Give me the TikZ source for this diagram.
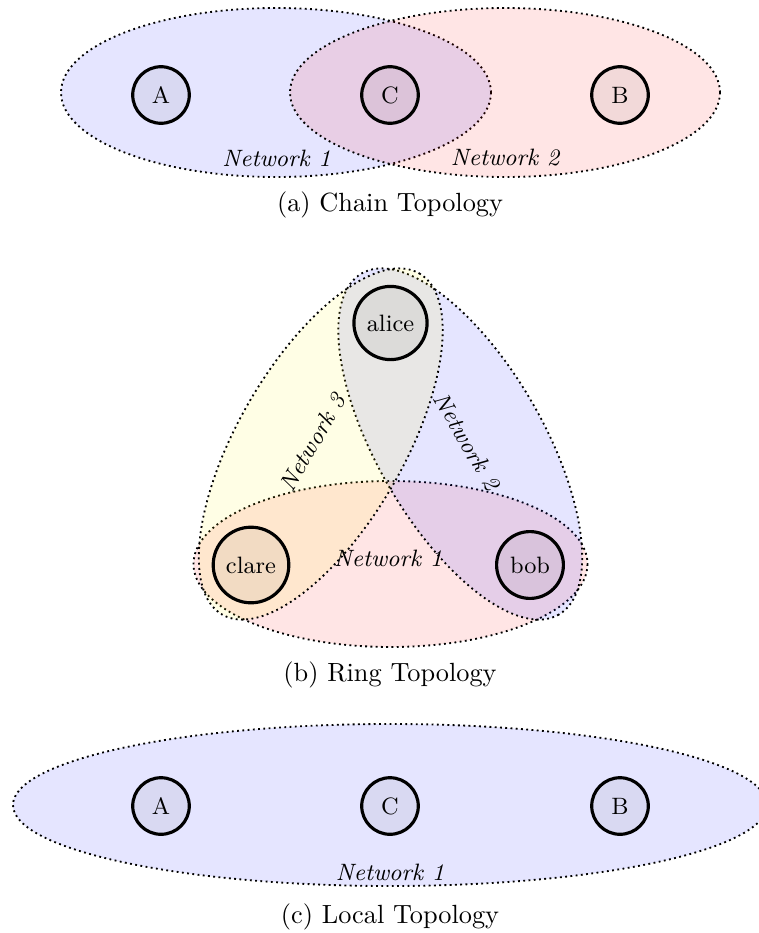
\documentclass[tikz,border=0pt]{standalone}
\begin{document}
\begin{tikzpicture}[x=0.38pt, y=-0.38pt,
  host/.style={circle, draw=black, very thick, fill=black, fill opacity=0.05,
    text opacity=1, draw opacity=1, minimum size=21.5pt, inner sep=3.33pt, font=\small},
  netline/.style={draw=black, line width=0.7pt, dash pattern=on 0.7pt off 1.3pt},
  netblue/.style={netline, fill=blue, fill opacity=0.1},
  netred/.style={netline, fill=red, fill opacity=0.1},
  netyellow/.style={netline, fill=yellow, fill opacity=0.1},
  netlabel/.style={font=\small\itshape},
  subcap/.style={font=\normalsize}]
\useasboundingbox (0,0) rectangle (758,933);

% ---------- (a) chain ----------
\path[netblue] (276,92.5) ellipse [x radius=215, y radius=84.5];
\path[netred]  (505,92.5) ellipse [x radius=215, y radius=84.5];
\node[host] (a1) at (161,95) {A};
\node[host] (c1) at (390,95) {C};
\node[host] (b1) at (620,95) {B};
\node[netlabel] (a1net1) at (276.5,158) {Network 1};
\node[netlabel] (a1net2) at (505,158) {Network 2};
\node[subcap] (capa) at (390,205) {(a) Chain Topology};

% ---------- (b) ring ----------
\path[netred] (390.5,564) ellipse [x radius=197, y radius=83];
\path[netblue, rotate around={-60:(460.25,444)}] (460.25,444) ellipse [x radius=197, y radius=83];
\path[netyellow, rotate around={60:(320.75,444)}] (320.75,444) ellipse [x radius=197, y radius=83];
\node[host] (alice) at (390.5,323) {alice};
\node[host] (clare) at (251,565) {clare};
\node[host] (bob) at (530,565) {bob};
\node[netlabel] (r1) at (388,558) {Network 1};
\node[netlabel, rotate=-60] (r2) at (467,441) {Network 2};
\node[netlabel, rotate=60] (r3) at (312.5,442.5) {Network 3};
\node[subcap] (capb) at (390,675) {(b) Ring Topology};

% ---------- (c) local ----------
\path[netblue] (390,805) ellipse [x radius=377, y radius=81];
\node[host] (a3) at (161,806) {A};
\node[host] (c3) at (390,806) {C};
\node[host] (b3) at (620,806) {B};
\node[netlabel] (l1) at (390,872) {Network 1};
\node[subcap] (capc) at (390,917) {(c) Local Topology};
\end{tikzpicture}
\end{document}
